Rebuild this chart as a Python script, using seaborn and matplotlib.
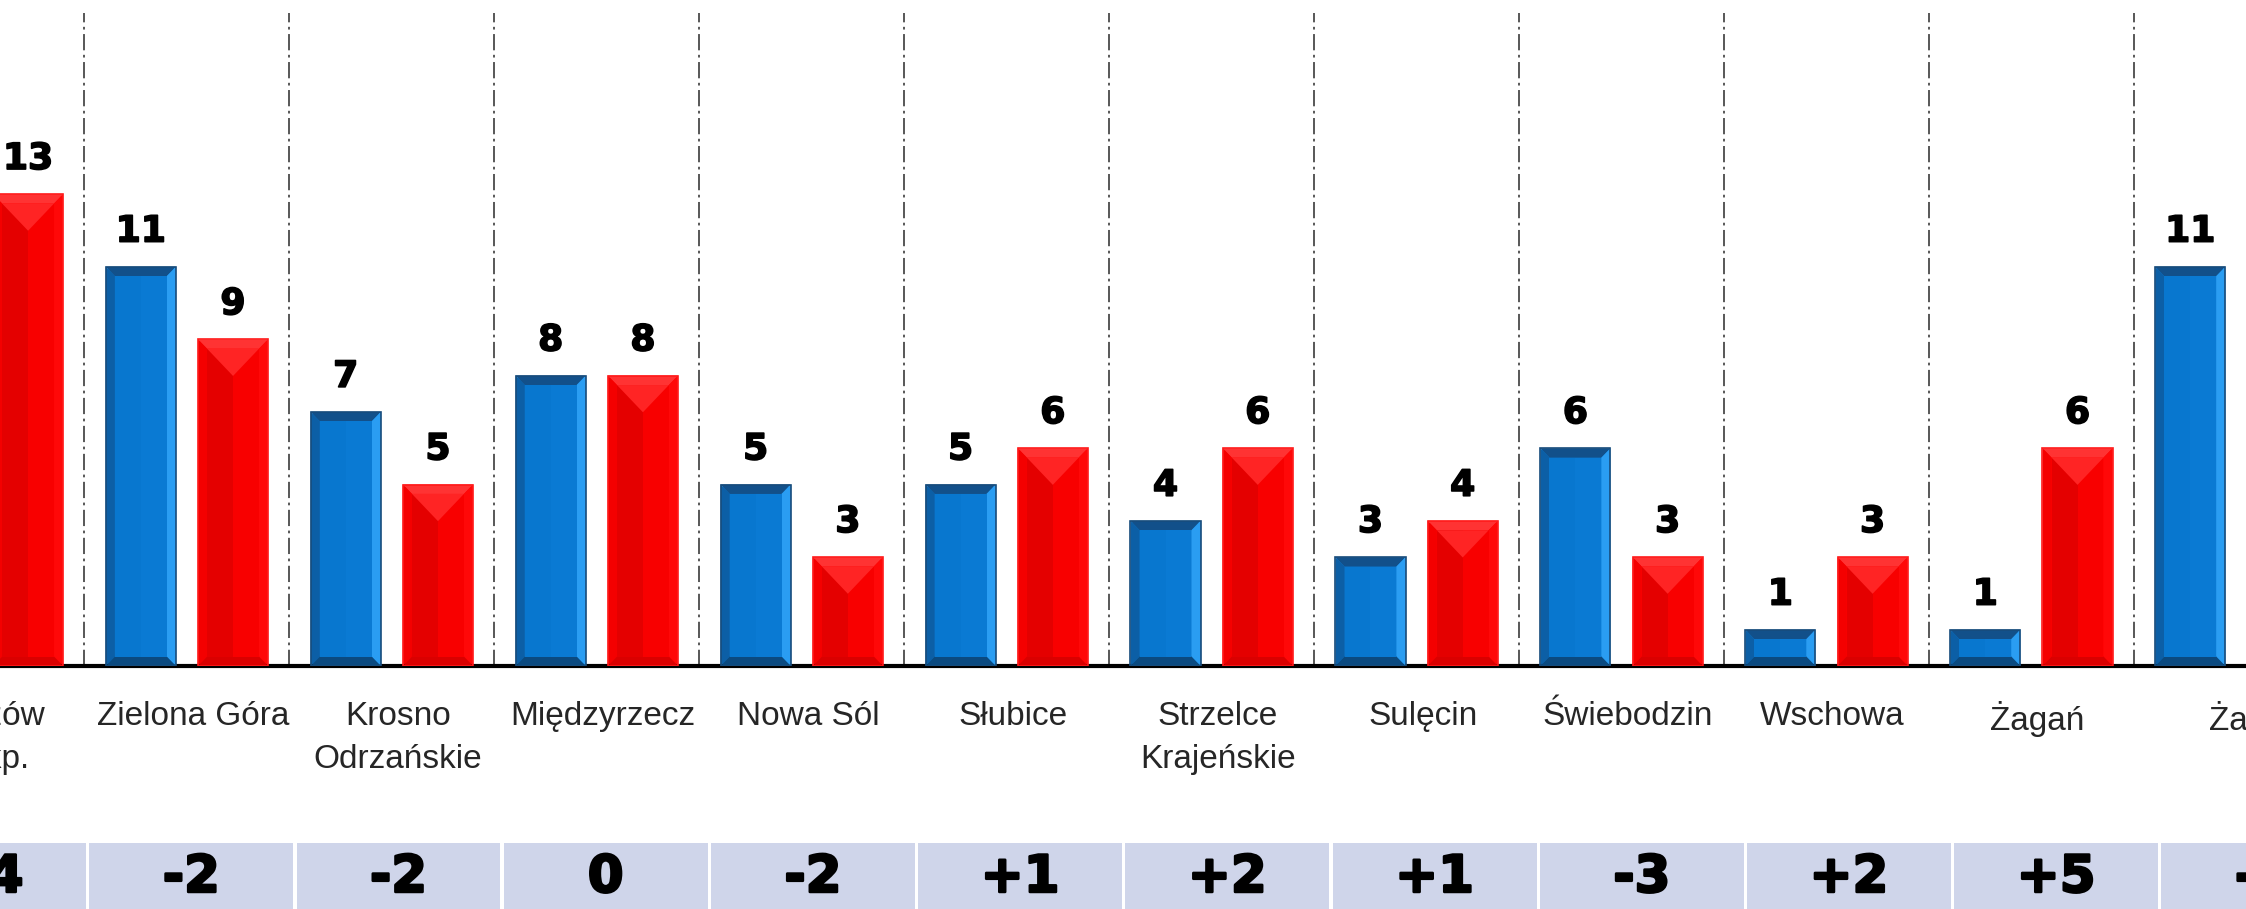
import matplotlib
matplotlib.use("Agg")
import matplotlib.pyplot as plt
import matplotlib.patheffects as pe
import pandas as pd
import seaborn as sns
from matplotlib.patches import Polygon, Rectangle

# data
districts = ["Gorzów\nWlkp.", "Zielona Góra", "Krosno\nOdrzańskie", "Międzyrzecz",
             "Nowa Sól", "Słubice", "Strzelce\nKrajeńskie", "Sulęcin",
             "Świebodzin", "Wschowa", "Żagań", "Żary"]
seats_before = [9, 11, 7, 8, 5, 5, 4, 3, 6, 1, 1, 11]
seats_after = [13, 9, 5, 8, 3, 6, 6, 4, 3, 3, 6, 9]
change = ["+4", "-2", "-2", "0", "-2", "+1", "+2", "+1", "-3", "+2", "+5", "-2"]
series = ["przed", "po"]

df = pd.DataFrame({
    "district": districts * 2,
    "series": [series[0]] * len(districts) + [series[1]] * len(districts),
    "value": seats_before + seats_after,
})

W, H = 2246, 909
fig = plt.figure(figsize=(W / 100, H / 100), dpi=100)
sns.set_style("white")

base_y = 666
top_y = 12.6
ax = fig.add_axes([0, 1 - base_y / H, 1, (base_y - top_y) / H])

sns.barplot(data=df, x="district", y="value", hue="series", order=districts,
            hue_order=series, palette=["#0A78D1", "#FF0000"], saturation=1,
            width=0.9, gap=0.24, legend=False, ax=ax)

ax.set_xlabel("")
ax.set_ylabel("")
ax.set_yticks([])
for s in ["top", "left", "right"]:
    ax.spines[s].set_visible(False)
ax.spines["bottom"].set_linewidth(3)
ax.spines["bottom"].set_color("black")

# separator ticks + dash-dot lines between districts
ax.set_xticks(range(len(districts)))
ax.set_xticklabels([""] * len(districts))
ax.tick_params(axis="x", which="major", length=0)
ax.set_xticks([i + 0.5 for i in range(len(districts) - 1)], minor=True)
ax.tick_params(axis="x", which="minor", length=17, width=2.2, direction="inout", color="black")
ax.grid(False)
ax.grid(True, which="minor", axis="x", color="#4a4a4a", lw=1.3, ls=(0, (9, 2.5, 1.5, 2.5)))
ax.set_axisbelow(True)
ax.set_xlim(0.088, 11.047)
ax.set_ylim(0, 18)

# district names (drawn as text so the clipped first one still shows)
for i, name in enumerate(districts):
    ax.text(i + 0.03, -0.96, name, ha="center", va="top", fontsize=24,
            family="Liberation Sans", linespacing=1.5, clip_on=False)

def bevel(p, colors):
    x0, w, h = p.get_x(), p.get_width(), p.get_height()
    x1 = x0 + w
    bx = w * 0.13
    by = min(0.26, h * 0.3)
    top, left, right, bottom, inner_l, inner_r, tri, edge = colors
    polys = [
        ([(x0, h), (x1, h), (x1 - bx, h - by), (x0 + bx, h - by)], top),
        ([(x0, 0), (x0, h), (x0 + bx, h - by), (x0 + bx, by)], left),
        ([(x1, 0), (x1, h), (x1 - bx, h - by), (x1 - bx, by)], right),
        ([(x0, 0), (x1, 0), (x1 - bx, by), (x0 + bx, by)], bottom),
    ]
    for pts, c in polys:
        ax.add_patch(Polygon(pts, closed=True, fc=c, ec="none", zorder=3))
    xm = (x0 + x1) / 2
    ax.add_patch(Rectangle((x0 + bx, by), xm - x0 - bx, h - 2 * by, fc=inner_l, ec="none", zorder=3))
    ax.add_patch(Rectangle((xm, by), x1 - bx - xm, h - 2 * by, fc=inner_r, ec="none", zorder=3))
    if tri is not None and h > 1.2:
        d = min(0.75, (h - 2 * by) * 0.4)
        ax.add_patch(Polygon([(x0 + bx, h - by), (x1 - bx, h - by), (xm, h - by - d)],
                             closed=True, fc=tri, ec="none", zorder=3))
    ax.add_patch(Rectangle((x0, 0), w, h, fc="none", ec=edge, lw=1.2, zorder=4))

blue_style = ["#12508A", "#0C5FA6", "#2A9DF2", "#0B4A80", "#0877CF", "#0A7AD3", None, "#174C7C"]
red_style = ["#FF3333", "#F40000", "#FF0808", "#DA0000", "#E40000", "#F80000", "#FF2424", "#FF1A1A"]
for cont, style in zip(ax.containers, [blue_style, red_style]):
    for p in cont.patches:
        bevel(p, style)
    labels = ax.bar_label(cont, padding=13, fontsize=26, fontweight="bold",
                          family="DejaVu Sans", color="black")
    for t in labels:
        t.set_path_effects([pe.withStroke(linewidth=1.2, foreground="black")])

# change row
ax2 = fig.add_axes([0, 0, 1, (H - 843) / H])
ax2.set_xlim(0.0767, 10.916)
ax2.set_ylim(0, 1)
ax2.axis("off")
for i, txt in enumerate(change):
    ax2.add_patch(Rectangle((i - 0.5 + 0.008, 0), 1 - 0.016, 1, fc="#CFD5EA", ec="none"))
    ax2.text(i, 0.47, txt, ha="center", va="center", fontsize=37,
             fontweight="bold", family="DejaVu Sans", color="black",
             path_effects=[pe.withStroke(linewidth=1.8, foreground="black")])

fig.savefig("out.png", dpi=100)
